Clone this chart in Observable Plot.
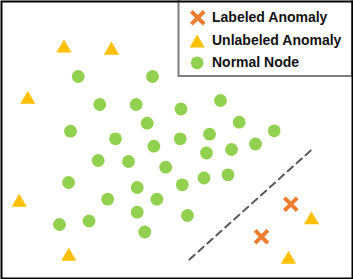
<!DOCTYPE html>
<html><head><meta charset="utf-8">
<script src="https://cdn.jsdelivr.net/npm/d3@7"></script>
<script src="https://cdn.jsdelivr.net/npm/@observablehq/plot@0.6"></script>
<style>body{margin:0;background:#fff} svg{display:block}</style>
</head><body><div id="chart"></div>
<script>
// Data (pixel-like coordinate space, y grows downward)
const normalX = [77.7,152,99.3,135.7,180.5,220,146.7,70,115,179.7,209,238.7,273.7,153.3,255,231,206,97.7,128,165.2,68,136.7,181.8,203.5,227.5,107.2,156.4,136.7,187,59,88.5,144.3];
const normalY = [76,76,104,104,108.5,100,122.7,130.7,138.3,138.3,133.7,121.7,130.3,145.7,143.5,149,152.5,160,161,166.7,182,187,184.3,177.5,174.3,198.7,198.7,211.7,215,224,220.5,231.5];
const unlabeledX = [63.5,111,27.3,18.7,68.3,311,288];
const unlabeledY = [47.7,49.8,99,202,256,219.5,259];
const labeledX = [290.3,261];
const labeledY = [203.7,236.3];
const boundaryX = [189,313.3];
const boundaryY = [259,147.3];
const legendLabels = ["Labeled Anomaly","Unlabeled Anomaly","Normal Node"];

// Layout
const legendBox = {x1:178.5, x2:352, y1:-2, y2:76};
const legendSymX = [197.3,196.7,196.7];
const legendSymY = [17.3,42.7,62.3];
const legendTextX = 211.5;
const legendTextY = [17.3,40,62.3];

const GREEN = "#92D050", YELLOW = "#FFC000", ORANGE = "#ED7D31";

const pts = (xs, ys) => xs.map((x,i)=>({x, y: ys[i]}));
const xStyle = {r:4.6, stroke:ORANGE, strokeWidth:4, symbol:"times", strokeLinecap:"square"};

const chart = Plot.plot({
  width: 353, height: 279, margin: 0,
  x: {domain:[0,353], range:[0,353], axis:null},
  y: {domain:[0,279], range:[0,279], axis:null},
  style: {fontFamily: "'Liberation Sans', Arial, sans-serif", background:"#fff"},
  marks: [
    Plot.line(pts(boundaryX, boundaryY), {x:"x", y:"y", stroke:"#595959", strokeWidth:2, strokeDasharray:"7,5"}),
    Plot.dot(pts(normalX, normalY), {x:"x", y:"y", r:6.4, fill:GREEN, symbol:"circle"}),
    Plot.dot(pts(unlabeledX, unlabeledY), {x:"x", y:"y", r:5.6, fill:YELLOW, symbol:"triangle"}),
    Plot.dot(pts(labeledX, labeledY), {x:"x", y:"y", ...xStyle}),
    // legend
    Plot.rect([legendBox], {x1:"x1", x2:"x2", y1:"y1", y2:"y2", fill:"#fff", stroke:"#7f7f7f", strokeWidth:2}),
    Plot.dot([0], {x:()=>legendSymX[0], y:()=>legendSymY[0], ...xStyle}),
    Plot.dot([1], {x:()=>legendSymX[1], y:()=>legendSymY[1], r:5.6, fill:YELLOW, symbol:"triangle"}),
    Plot.dot([2], {x:()=>legendSymX[2], y:()=>legendSymY[2], r:6.4, fill:GREEN, symbol:"circle"}),
    Plot.text(legendLabels, {x:()=>legendTextX, y:(d,i)=>legendTextY[i], text:d=>d, textAnchor:"start", fontSize:14, fontWeight:"bold", fill:"#111"}),
    Plot.frame({stroke:"#000", strokeWidth:2, inset:1})
  ]
});
document.getElementById("chart").append(chart);
</script>
</body></html>
